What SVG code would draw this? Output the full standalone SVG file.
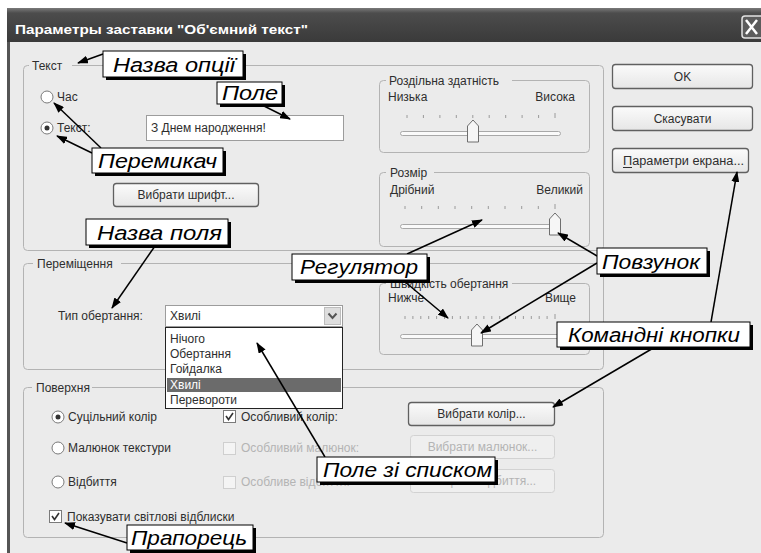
<svg xmlns="http://www.w3.org/2000/svg" width="761" height="553" viewBox="0 0 761 553">
<defs>
<linearGradient id="tb" x1="0" y1="0" x2="0" y2="1">
<stop offset="0" stop-color="#7a7a7a"/><stop offset="0.15" stop-color="#4c4c4c"/><stop offset="1" stop-color="#3a3a3a"/>
</linearGradient>
<linearGradient id="bf" x1="0" y1="0" x2="0" y2="1">
<stop offset="0" stop-color="#fbfbfb"/><stop offset="1" stop-color="#e6e6e6"/>
</linearGradient>
<marker id="ah" markerUnits="userSpaceOnUse" markerWidth="11" markerHeight="8" refX="10" refY="4" orient="auto">
<path d="M0,0 L11,4 L0,8 Z" fill="#000"/>
</marker>
<path id="thumb" d="M-5.5,22 L-5.5,6 L0,0 L5.5,6 L5.5,22 Z"/>
</defs>
<style>
.t{font-family:"Liberation Sans",Arial,sans-serif;font-size:12px;fill:#2e2e2e}
.d{fill:#b4b4b4}
.fr{fill:none;stroke:#b3b3b3;stroke-width:1}
.lb{fill:#ebebeb}
.btn{fill:url(#bf);stroke:#606060;stroke-width:1.3}
.btnd{fill:#efefef;stroke:#d2d2d2;stroke-width:1}
.rd{fill:#fff;stroke:#7a7a7a;stroke-width:1}
.cb{fill:#fff;stroke:#7a7a7a;stroke-width:1}
.cbd{fill:#f4f4f4;stroke:#cfcfcf;stroke-width:1}
.ck{fill:none;stroke:#333;stroke-width:1.6}
.trk{fill:#fafafa;stroke:#a8a8a8;stroke-width:1}
.tk{stroke:#9a9a9a;stroke-width:1}
.th{fill:#f6f6f6;stroke:#6e6e6e;stroke-width:1}
.sh{fill:#000}
.bx{fill:#fff;stroke:#000;stroke-width:1}
.an{font-family:"Liberation Sans",Arial,sans-serif;font-style:italic;font-size:20px;fill:#000}
.ar{stroke:#000;stroke-width:1.5;fill:none;marker-end:url(#ah)}
</style>
<rect x="0" y="0" width="761" height="553" fill="#fff"/>
<g id="dialog">
<rect x="7" y="8" width="754" height="545" fill="#555"/>
<rect x="10" y="42" width="751" height="511" fill="#ebebeb"/>
<rect x="7" y="8" width="754" height="34" fill="url(#tb)"/>
<text x="15" y="34" font-family="Liberation Sans,Arial,sans-serif" font-size="13" font-weight="bold" fill="#fff" textLength="293" lengthAdjust="spacingAndGlyphs">Параметры заставки "Об'ємний текст"</text>
<rect x="742" y="16" width="24" height="22" rx="3" fill="#5c5c5c" stroke="#e2e2e2" stroke-width="1.5"/>
<path d="M746,20 L757,34 M757,20 L746,34" stroke="#fff" stroke-width="2.5"/>

<!-- Текст group -->
<rect class="fr" x="23.5" y="65.5" width="580" height="185" rx="4"/>
<rect class="lb" x="29" y="59" width="43" height="13"/>
<text class="t" x="32" y="70">Текст</text>
<circle class="rd" cx="47" cy="97" r="6"/>
<text class="t" x="57" y="101">Час</text>
<circle class="rd" cx="47" cy="128" r="6"/>
<circle cx="47" cy="128" r="2.5" fill="#333"/>
<text class="t" x="57" y="132">Текст:</text>
<rect x="146.5" y="115.5" width="197" height="25" fill="#fff" stroke="#9c9c9c"/>
<text class="t" x="151" y="132">З Днем народження!</text>
<rect class="btn" x="113.5" y="183.5" width="145" height="23" rx="3"/>
<text class="t" x="186" y="199" text-anchor="middle" font-size="11.5">Вибрати шрифт...</text>

<!-- Роздільна здатність -->
<rect class="fr" x="379.5" y="80.5" width="210" height="72" rx="4"/>
<rect class="lb" x="386" y="74" width="126" height="13"/>
<text class="t" x="389" y="85">Роздільна здатність</text>
<text class="t" x="388" y="101">Низька</text>
<text class="t" x="575" y="101" text-anchor="end">Висока</text>
<g class="tk">
<path d="M407,115v3M423.4,115v3M439.9,115v3M456.3,115v3M472.8,115v3M489.2,115v3M505.7,115v3M522.1,115v3M538.6,115v3M555,113v5"/>
</g>
<rect class="trk" x="400.5" y="131.5" width="160" height="4" rx="2"/>
<use href="#thumb" class="th" x="473" y="120"/>

<!-- Розмір -->
<rect class="fr" x="379.5" y="172.5" width="210" height="74" rx="4"/>
<rect class="lb" x="386" y="166" width="48" height="13"/>
<text class="t" x="390" y="177">Розмір</text>
<text class="t" x="390" y="194">Дрібний</text>
<text class="t" x="583" y="194" text-anchor="end">Великий</text>
<g class="tk">
<path d="M405,206v3M421.7,206v3M438.3,206v3M455,206v3M471.7,206v3M488.3,206v3M505,206v3M521.7,206v3M538.3,206v3M555,204v5"/>
</g>
<rect class="trk" x="400.5" y="224.5" width="158" height="4" rx="2"/>
<use href="#thumb" class="th" x="555" y="213"/>

<!-- Переміщення -->
<rect class="fr" x="23.5" y="263.5" width="580" height="106" rx="4"/>
<rect class="lb" x="33" y="257" width="88" height="13"/>
<text class="t" x="37" y="268">Переміщення</text>
<text class="t" x="58" y="320">Тип обертання:</text>
<rect x="165.5" y="305.5" width="177" height="21" fill="#fff" stroke="#9c9c9c"/>
<text class="t" x="170" y="320">Хвилі</text>
<rect x="324.5" y="307.5" width="16" height="17" fill="#dedede" stroke="#bdbdbd"/>
<path d="M328.5,313.5 L332.5,318 L336.5,313.5" fill="none" stroke="#555" stroke-width="2"/>

<!-- Швидкість обертання -->
<rect class="fr" x="379.5" y="283.5" width="210" height="71" rx="4"/>
<rect class="lb" x="386" y="277" width="126" height="13"/>
<text class="t" x="390" y="288">Швидкість обертання</text>
<text class="t" x="388" y="302">Нижче</text>
<text class="t" x="576" y="302" text-anchor="end">Вище</text>
<g class="tk">
<path d="M405,316v3M412.9,316v3M420.8,316v3M428.7,316v3M436.6,316v3M444.5,316v3M452.4,316v3M460.3,316v3M468.2,316v3M476.1,316v3M483.9,316v3M491.8,316v3M499.7,316v3M507.6,316v3M515.5,316v3M523.4,316v3M531.3,316v3M539.2,316v3M547.1,316v3M555,314v5"/>
</g>
<rect class="trk" x="400.5" y="334.5" width="160" height="4" rx="2"/>
<use href="#thumb" class="th" x="477" y="324"/>

<!-- Поверхня -->
<rect class="fr" x="23.5" y="387.5" width="580" height="150" rx="4"/>
<rect class="lb" x="32" y="381" width="60" height="13"/>
<text class="t" x="36" y="392">Поверхня</text>
<circle class="rd" cx="58" cy="417" r="6"/>
<circle cx="58" cy="417" r="2.5" fill="#333"/>
<text class="t" x="68" y="421">Суцільний колір</text>
<circle class="rd" cx="58" cy="448" r="6"/>
<text class="t" x="68" y="452">Малюнок текстури</text>
<circle class="rd" cx="58" cy="482" r="6"/>
<text class="t" x="68" y="486">Відбиття</text>
<rect class="cb" x="223.5" y="410.5" width="12" height="12"/>
<path class="ck" d="M226,416 L228.5,419.5 L233,413"/>
<text class="t" x="241" y="421">Особливий колір:</text>
<rect class="cbd" x="223.5" y="442.5" width="12" height="12"/>
<text class="t d" x="241" y="452">Особливий малюнок:</text>
<rect class="cbd" x="223.5" y="476.5" width="12" height="12"/>
<text class="t d" x="241" y="486">Особливе відбиття:</text>
<rect class="btn" x="408.5" y="402.5" width="146" height="23" rx="3"/>
<text class="t" x="481.5" y="418" text-anchor="middle">Вибрати колір...</text>
<rect class="btnd" x="410.5" y="435.5" width="144" height="23" rx="3"/>
<text class="t d" x="482.5" y="451" text-anchor="middle">Вибрати малюнок...</text>
<rect class="btnd" x="410.5" y="469.5" width="144" height="23" rx="3"/>
<text class="t d" x="482.5" y="485" text-anchor="middle">Вибрати відбиття...</text>
<rect class="cb" x="49.5" y="510.5" width="12" height="12"/>
<path class="ck" d="M52,516 L54.5,519.5 L59,513"/>
<text class="t" x="67" y="521">Показувати світлові відблиски</text>

<!-- right buttons -->
<rect class="btn" x="612.5" y="64.5" width="140" height="24" rx="3"/>
<text class="t" x="682.5" y="81" text-anchor="middle">OK</text>
<rect class="btn" x="612.5" y="106.5" width="140" height="24" rx="3"/>
<text class="t" x="682.5" y="123" text-anchor="middle">Скасувати</text>
<rect class="btn" x="612.5" y="148.5" width="136" height="24" rx="3"/>
<text class="t" x="623" y="165" textLength="121" lengthAdjust="spacingAndGlyphs">Параметри екрана...</text>
<path d="M623,167.5 H632" stroke="#2e2e2e" stroke-width="1"/>

<!-- dropdown list -->
<rect x="165.5" y="327.5" width="177" height="81" fill="#fff" stroke="#222"/>
<rect x="167" y="378" width="174" height="14" fill="#6b6b6b"/>
<text class="t" x="170" y="343">Нічого</text>
<text class="t" x="170" y="358">Обертання</text>
<text class="t" x="170" y="373">Гойдалка</text>
<text class="t" x="170" y="389" fill="#fff" style="fill:#fff">Хвилі</text>
<text class="t" x="170" y="404">Перевороти</text>
</g>

<g id="connectors">
<line class="ar" x1="103" y1="54" x2="78" y2="63"/>
<line class="ar" x1="262" y1="105" x2="290" y2="119"/>
<line class="ar" x1="101" y1="148" x2="54" y2="103"/>
<line class="ar" x1="92" y1="153" x2="57" y2="136"/>
<line class="ar" x1="155" y1="246" x2="112" y2="308"/>
<line class="ar" x1="407" y1="254" x2="482" y2="220"/>
<line class="ar" x1="404" y1="281" x2="448" y2="318"/>
<line class="ar" x1="597" y1="256" x2="558" y2="233"/>
<line class="ar" x1="597" y1="263" x2="481" y2="333"/>
<line class="ar" x1="711" y1="322" x2="737" y2="172"/>
<line class="ar" x1="655" y1="347" x2="553" y2="407"/>
<line class="ar" x1="325" y1="457" x2="257" y2="343"/>
<line class="ar" x1="127" y1="543" x2="65" y2="523"/>
</g>

<g id="n-nazva-opcii">
<rect class="sh" x="106" y="54" width="140" height="26"/>
<rect class="bx" x="103" y="51" width="140" height="26"/>
<text class="an" x="113" y="72" textLength="122" lengthAdjust="spacingAndGlyphs">Назва опції</text>
</g>
<g id="n-pole">
<rect class="sh" x="220" y="85" width="65" height="22"/>
<rect class="bx" x="217" y="82" width="65" height="22"/>
<text class="an" x="222" y="100" textLength="56" lengthAdjust="spacingAndGlyphs">Поле</text>
</g>
<g id="n-peremykach">
<rect class="sh" x="95" y="151" width="131" height="25"/>
<rect class="bx" x="92" y="148" width="131" height="25"/>
<text class="an" x="98" y="168" textLength="119" lengthAdjust="spacingAndGlyphs">Перемикач</text>
</g>
<g id="n-nazva-polia">
<rect class="sh" x="89" y="222" width="142" height="26"/>
<rect class="bx" x="86" y="219" width="142" height="26"/>
<text class="an" x="97" y="240" textLength="125" lengthAdjust="spacingAndGlyphs">Назва поля</text>
</g>
<g id="n-rehuliator">
<rect class="sh" x="295" y="257" width="135" height="26"/>
<rect class="bx" x="292" y="254" width="135" height="26"/>
<text class="an" x="300" y="274" textLength="118" lengthAdjust="spacingAndGlyphs">Регулятор</text>
</g>
<g id="n-povzunok">
<rect class="sh" x="600" y="251" width="110" height="26"/>
<rect class="bx" x="597" y="248" width="110" height="26"/>
<text class="an" x="602" y="269" textLength="98" lengthAdjust="spacingAndGlyphs">Повзунок</text>
</g>
<g id="n-komandni">
<rect class="sh" x="560" y="325" width="193" height="25"/>
<rect class="bx" x="557" y="322" width="193" height="25"/>
<text class="an" x="568" y="342" textLength="172" lengthAdjust="spacingAndGlyphs">Командні кнопки</text>
</g>
<g id="n-pole-spysok">
<rect class="sh" x="320" y="460" width="178" height="25"/>
<rect class="bx" x="317" y="457" width="178" height="25"/>
<text class="an" x="323" y="477" textLength="169" lengthAdjust="spacingAndGlyphs">Поле зі списком</text>
</g>
<g id="n-praporets">
<rect class="sh" x="130" y="528" width="126" height="25"/>
<rect class="bx" x="127" y="525" width="126" height="25"/>
<text class="an" x="131" y="545" textLength="116" lengthAdjust="spacingAndGlyphs">Прапорець</text>
</g>
</svg>
